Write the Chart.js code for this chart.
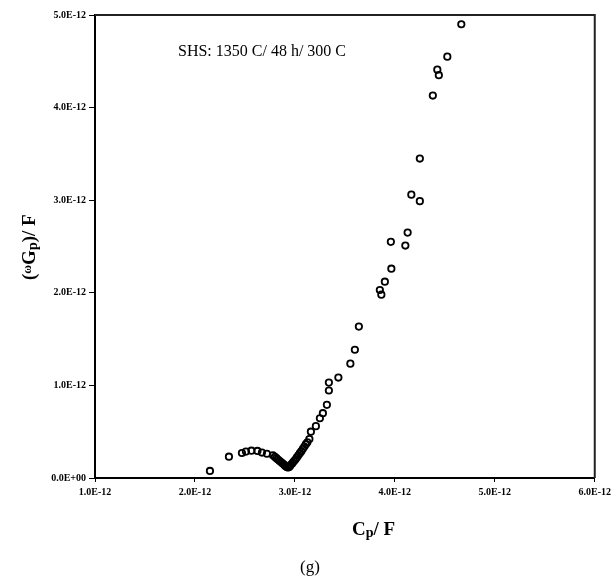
<!DOCTYPE html>
<html><head><meta charset="utf-8">
<script src="https://cdn.jsdelivr.net/npm/chart.js@4"></script>
<style>html,body{margin:0;padding:0;background:#fff}#wrap{width:615px;height:583px;position:relative}</style>
</head><body><div id="wrap"><canvas id="c" width="615" height="583"></canvas></div>
<script>
// Cp / F (x) and (omega Gp) / F (y)
const cpValues = [2.15e-12,2.34e-12,2.47e-12,2.51e-12,2.565e-12,2.625e-12,2.67e-12,2.72e-12,2.78e-12,
 2.80e-12,2.815e-12,2.83e-12,2.845e-12,2.86e-12,2.875e-12,2.89e-12,2.90e-12,2.91e-12,2.92e-12,2.93e-12,2.94e-12,2.95e-12,
 2.96e-12,2.975e-12,2.99e-12,3.005e-12,3.02e-12,3.035e-12,3.05e-12,3.065e-12,3.08e-12,3.095e-12,3.11e-12,3.125e-12,
 3.145e-12,3.16e-12,3.21e-12,3.25e-12,3.28e-12,3.32e-12,3.34e-12,3.34e-12,3.435e-12,3.555e-12,3.60e-12,3.64e-12,
 3.85e-12,3.865e-12,3.90e-12,3.965e-12,3.96e-12,4.105e-12,4.128e-12,4.165e-12,4.25e-12,4.25e-12,4.38e-12,4.425e-12,4.44e-12,4.525e-12,4.665e-12];
const wgpValues = [0.076e-12,0.23e-12,0.27e-12,0.285e-12,0.295e-12,0.292e-12,0.275e-12,0.262e-12,0.245e-12,
 0.228e-12,0.214e-12,0.200e-12,0.186e-12,0.172e-12,0.158e-12,0.145e-12,0.134e-12,0.125e-12,0.118e-12,0.114e-12,0.117e-12,0.128e-12,
 0.142e-12,0.160e-12,0.180e-12,0.200e-12,0.222e-12,0.245e-12,0.268e-12,0.290e-12,0.315e-12,0.340e-12,0.365e-12,0.385e-12,
 0.42e-12,0.50e-12,0.56e-12,0.645e-12,0.70e-12,0.79e-12,0.945e-12,1.03e-12,1.085e-12,1.235e-12,1.385e-12,1.635e-12,
 2.03e-12,1.98e-12,2.12e-12,2.26e-12,2.55e-12,2.51e-12,2.65e-12,3.06e-12,2.99e-12,3.45e-12,4.13e-12,4.41e-12,4.35e-12,4.55e-12,4.90e-12];
const xTickValues = [1e-12,2e-12,3e-12,4e-12,5e-12,6e-12];
const xTickLabels = ['1.0E-12','2.0E-12','3.0E-12','4.0E-12','5.0E-12','6.0E-12'];
const yTickValues = [0,1e-12,2e-12,3e-12,4e-12,5e-12];
const yTickLabels = ['0.0E+00','1.0E-12','2.0E-12','3.0E-12','4.0E-12','5.0E-12'];
const annotation = 'SHS: 1350 C/ 48 h/ 300 C';
const panelLabel = '(g)';

const points = cpValues.map((x,i)=>({x, y: wgpValues[i]}));
const tickFont = {family:'Liberation Serif', size:10, weight:'bold'};

const textPlugin = {
  id:'texts',
  afterDraw(chart){
    const ctx = chart.ctx, a = chart.chartArea;
    ctx.save();
    ctx.strokeStyle = '#222'; ctx.lineWidth = 2;
    ctx.beginPath();
    ctx.moveTo(a.left, a.top); ctx.lineTo(a.right, a.top); ctx.lineTo(a.right, a.bottom);
    ctx.stroke();
    ctx.fillStyle = '#000';
    ctx.font = '16px "Liberation Serif"';
    ctx.textBaseline = 'middle'; ctx.textAlign = 'left';
    ctx.fillText(annotation, 178, 52);
    const big = 'bold 19px "Liberation Serif"', small = 'bold 14px "Liberation Serif"';
    let x = 352, y = 530;
    ctx.font = big; ctx.fillText('C', x, y); x += ctx.measureText('C').width;
    ctx.font = small; ctx.fillText('p', x, y+3); x += ctx.measureText('p').width;
    ctx.font = big; ctx.fillText('/ F', x, y);
    ctx.font = '17px "Liberation Serif"'; ctx.textAlign = 'center';
    ctx.fillText(panelLabel, 310, 568);
    ctx.translate(30, 280); ctx.rotate(-Math.PI/2);
    ctx.textAlign = 'left';
    let t = 0;
    ctx.font = big; ctx.fillText('(', t, 0); t += ctx.measureText('(').width;
    ctx.font = 'bold 12px "Liberation Serif"'; ctx.fillText('ω', t, -2); t += ctx.measureText('ω').width;
    ctx.font = big; ctx.fillText('G', t, 0); t += ctx.measureText('G').width;
    ctx.font = small; ctx.fillText('p', t, 3); t += ctx.measureText('p').width;
    ctx.font = big; ctx.fillText(')/ F', t, 0);
    ctx.restore();
  }
};

new Chart(document.getElementById('c'), {
  type:'scatter',
  data:{datasets:[{data:points, pointStyle:'circle', pointRadius:3.2, pointBorderWidth:1.8,
    pointBorderColor:'#000', pointBackgroundColor:'rgba(255,255,255,0)', showLine:false}]},
  options:{
    responsive:false, animation:false,
    layout:{padding:{left:0, top:15, right:17, bottom:0}},
    plugins:{legend:{display:false}, tooltip:{enabled:false}},
    scales:{
      x:{type:'linear', min:1e-12, max:6e-12,
        afterBuildTicks(s){ s.ticks = xTickValues.map(v=>({value:v})); },
        afterFit(s){ s.height = 105; },
        ticks:{callback:(v,i)=>xTickLabels[i], font:tickFont, color:'#000', maxRotation:0, padding:4},
        grid:{drawOnChartArea:false, tickLength:4, color:'#000', tickColor:'#000'},
        border:{color:'#000', width:2}
      },
      y:{type:'linear', min:0, max:5e-12,
        afterBuildTicks(s){ s.ticks = yTickValues.map(v=>({value:v})); },
        afterFit(s){ s.width = 95; },
        ticks:{callback:(v,i)=>yTickLabels[i], font:tickFont, color:'#000', padding:3},
        grid:{drawOnChartArea:false, tickLength:6, color:'#000', tickColor:'#000'},
        border:{color:'#000', width:2}
      }
    }
  },
  plugins:[textPlugin]
});
</script></body></html>
